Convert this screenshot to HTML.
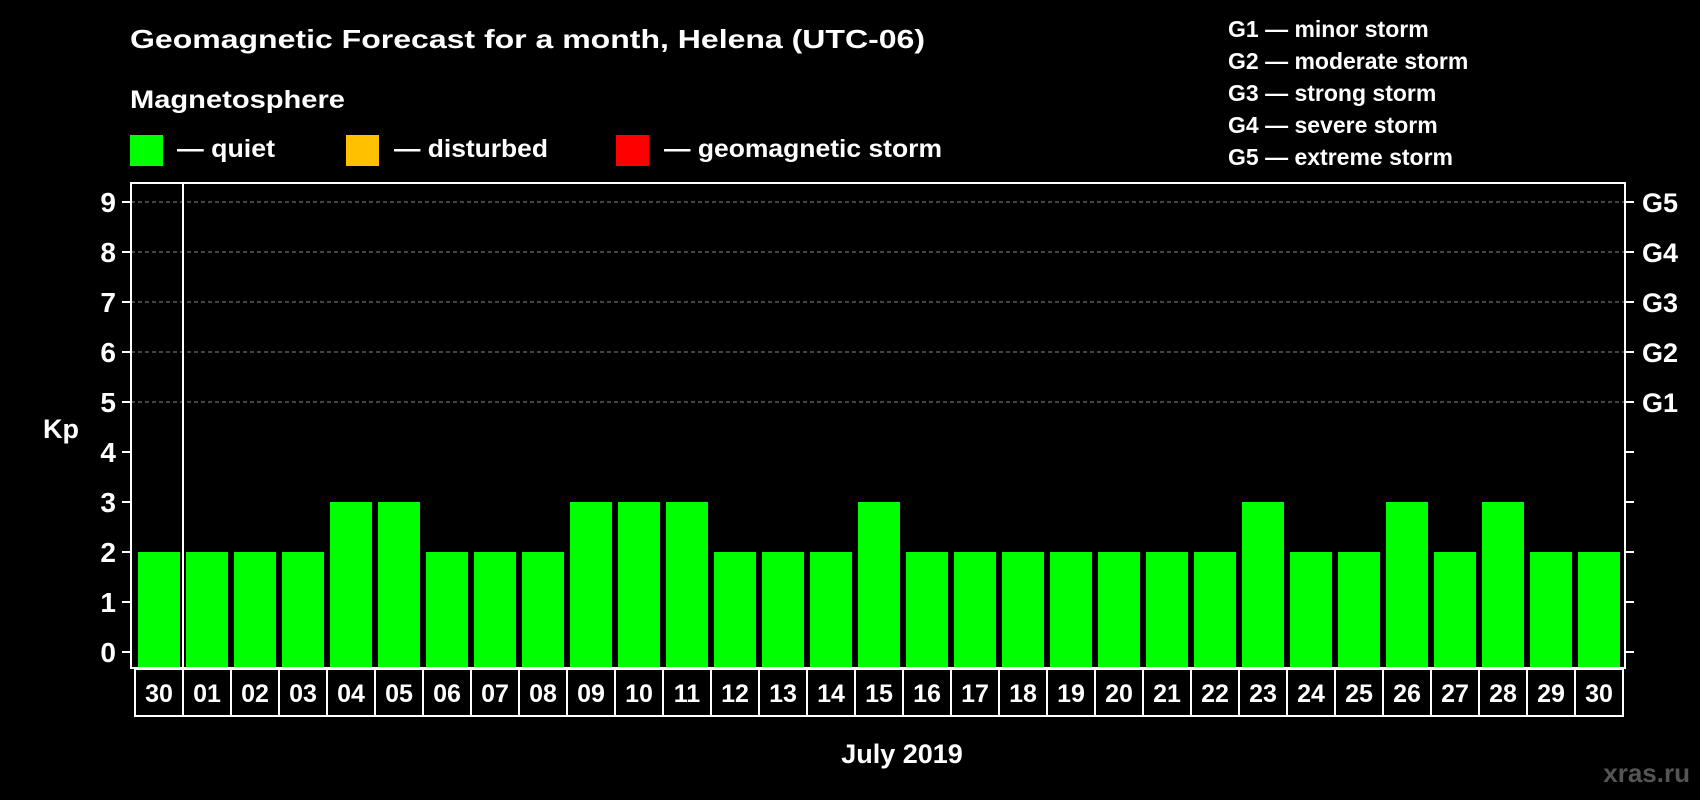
<!DOCTYPE html>
<html><head><meta charset="utf-8"><style>
html,body{margin:0;padding:0;background:#000;}
svg{display:block;font-family:"Liberation Sans",sans-serif;font-weight:bold;}
</style></head><body>
<svg id="chart" width="1700" height="800" viewBox="0 0 1700 800">
<rect x="0" y="0" width="1700" height="800" fill="#000"/>
<text x="130" y="48" font-size="26" fill="#fff" textLength="795" lengthAdjust="spacingAndGlyphs">Geomagnetic Forecast for a month, Helena (UTC-06)</text>
<text x="130" y="108" font-size="25" fill="#fff" textLength="215" lengthAdjust="spacingAndGlyphs">Magnetosphere</text>
<g>
<rect x="130" y="135" width="33" height="31" fill="#00ff00"/>
<text x="177" y="157" font-size="25" fill="#fff" textLength="98" lengthAdjust="spacingAndGlyphs">— quiet</text></g>
<g>
<rect x="346" y="135" width="33" height="31" fill="#ffc000"/>
<text x="394" y="157" font-size="25" fill="#fff" textLength="154" lengthAdjust="spacingAndGlyphs">— disturbed</text></g>
<g>
<rect x="616" y="135" width="33" height="31" fill="#ff0000"/>
<text x="664" y="157" font-size="25" fill="#fff" textLength="278" lengthAdjust="spacingAndGlyphs">— geomagnetic storm</text></g>
<g font-size="23" fill="#fff">
<text x="1228" y="37">G1 — minor storm</text>
<text x="1228" y="69">G2 — moderate storm</text>
<text x="1228" y="101">G3 — strong storm</text>
<text x="1228" y="133">G4 — severe storm</text>
<text x="1228" y="165">G5 — extreme storm</text>
</g>
<text x="43" y="438" font-size="27" fill="#fff">Kp</text>
<text x="902" y="763" font-size="27" fill="#fff" text-anchor="middle">July 2019</text>
<text x="1690" y="782" font-size="26" fill="#555" text-anchor="end">xras.ru</text>
<g id="grid"></g><g id="bars"></g><g id="axes"></g><g id="xlabels"></g>
</svg>
<script>
const days = ["30","01","02","03","04","05","06","07","08","09","10","11","12","13","14","15","16","17","18","19","20","21","22","23","24","25","26","27","28","29","30"];
const kpValues = [2,2,2,2,3,3,2,2,2,3,3,3,2,2,2,3,2,2,2,2,2,2,2,3,2,2,3,2,3,2,2];
const yTicks = [0,1,2,3,4,5,6,7,8,9];
const gLabels = ["G1","G2","G3","G4","G5"];
const gLevels = [5,6,7,8,9];

const NS = "http://www.w3.org/2000/svg";
const plotL = 131, plotR = 1625, plotT = 183, plotB = 668;
const y0 = 652, unit = 50;
const slot = 48, firstCenter = 159, barW = 42;
function yScale(v){ return y0 - v*unit; }
function xCenter(i){ return firstCenter + i*slot; }
function colorFor(v){ return v >= 5 ? "#ff0000" : (v >= 4 ? "#ffc000" : "#00ff00"); }
function mk(tag, attrs, parent){
  const e = document.createElementNS(NS, tag);
  for (const k in attrs) e.setAttribute(k, attrs[k]);
  parent.appendChild(e); return e;
}
const grid = document.getElementById("grid");
const bars = document.getElementById("bars");
const axes = document.getElementById("axes");
const xl = document.getElementById("xlabels");

gLevels.forEach((lv, i) => {
  const l = mk("line", {x1: plotL, x2: plotR, y1: yScale(lv), y2: yScale(lv), stroke: "#888", "stroke-width": 1, "stroke-dasharray": "4,3"}, grid);
  
  
  const t = mk("text", {x: 1642, y: yScale(lv) + 10, "font-size": 27, fill: "#fff"}, axes);
  t.textContent = gLabels[i];
  
  
});

kpValues.forEach((v, i) => {
  const r = mk("rect", {x: xCenter(i) - barW/2, y: yScale(v), width: barW, height: plotB - 1 - yScale(v), fill: colorFor(v)}, bars);
  
  
  const b = mk("rect", {x: xCenter(i) - 24, y: 669, width: 48, height: 47, fill: "none", stroke: "#fff", "stroke-width": 2}, xl);
  
  
  const t = mk("text", {x: xCenter(i), y: 702, "font-size": 25, fill: "#fff", "text-anchor": "middle"}, xl);
  t.textContent = days[i];
  
  
});

const frame = mk("rect", {x: plotL, y: plotT, width: plotR - plotL, height: plotB - plotT, fill: "none", stroke: "#fff", "stroke-width": 2}, axes);


const sep = mk("line", {x1: 183, x2: 183, y1: plotT, y2: plotB, stroke: "#fff", "stroke-width": 2}, axes);



yTicks.forEach(v => {
  const y = yScale(v);
  const a = mk("line", {x1: 122, x2: plotL, y1: y, y2: y, stroke: "#fff", "stroke-width": 2}, axes);
  
  
  const b = mk("line", {x1: plotR, x2: 1634, y1: y, y2: y, stroke: "#fff", "stroke-width": 2}, axes);
  
  
  const t = mk("text", {x: 116, y: y + 10, "font-size": 28, fill: "#fff", "text-anchor": "end"}, axes);
  t.textContent = v;
  
  
});
</script>
</body></html>
